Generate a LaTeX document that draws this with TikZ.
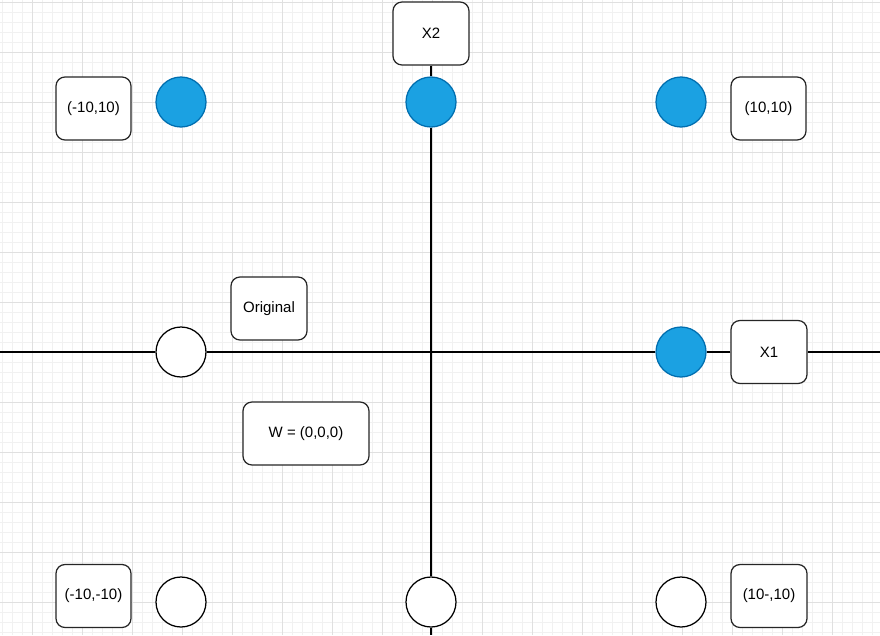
\documentclass[tikz,border=0pt]{standalone}
\usepackage{fontspec}
\setmainfont{Liberation Sans}
\definecolor{gridminor}{HTML}{F1F1F1}
\definecolor{gridmajor}{HTML}{E0E0E0}
\definecolor{dotfill}{HTML}{1BA1E2}
\definecolor{dotline}{HTML}{006EAF}
\begin{document}
\begin{tikzpicture}[x=1pt,y=-1pt,
  dotblue/.style={circle,draw=dotline,fill=dotfill,line width=1.25pt,minimum size=50pt,inner sep=0pt},
  dotwhite/.style={circle,draw=black,fill=white,line width=1.25pt,minimum size=50pt,inner sep=0pt},
  labelbox/.style={draw=black!85,fill=white,rounded corners=9pt,line width=1.25pt,minimum width=75pt,minimum height=63pt,inner sep=0pt,font=\fontsize{15}{18}\selectfont},
  axisline/.style={draw=black,line width=1.25pt}]
\useasboundingbox (0,0) rectangle (880,635);
\fill[white] (0,0) rectangle (880,635);
% grid
\foreach \i in {2,12,...,880} \draw[gridminor,line width=0.9pt] (\i,0) -- (\i,635);
\foreach \i in {2,12,...,635} \draw[gridminor,line width=0.9pt] (0,\i) -- (880,\i);
\foreach \i in {32,82,...,880} \draw[gridmajor,line width=0.9pt] (\i,0) -- (\i,635);
\foreach \i in {2,52,...,635} \draw[gridmajor,line width=0.9pt] (0,\i) -- (880,\i);
% nodes
\node[dotblue] (c1) at (181,102) {};
\node[dotblue] (c2) at (431,102) {};
\node[dotblue] (c3) at (681,102) {};
\node[dotwhite] (c4) at (181,352) {};
\node[dotblue] (c5) at (681,352) {};
\node[dotwhite] (c6) at (181,602) {};
\node[dotwhite] (c7) at (431,602) {};
\node[dotwhite] (c8) at (681,602) {};
\node[labelbox] (b1) at (93.5,108.5) {(-10,10)};
\node[labelbox,minimum width=76pt] (x2) at (431,33.5) {X2};
\node[labelbox] (b2) at (768.5,108.5) {(10,10)};
\node[labelbox,minimum width=76pt] (x1) at (769,352) {X1};
\node[labelbox,minimum width=76pt] (orig) at (269,308.5) {Original};
\node[labelbox,minimum width=126pt] (w) at (306,433.5) {W = (0,0,0)};
\node[labelbox] (b3) at (93.5,596) {(-10,-10)};
\node[labelbox,minimum width=76pt] (b4) at (769,596) {(10-,10)};
\coordinate (left) at (0,352);
\coordinate (right) at (880,352);
\coordinate (bottom) at (431,635);
% axes
\draw[axisline] (left) -- (c4.west);
\draw[axisline] (c4.east) -- (c5.west);
\draw[axisline] (c5.east) -- (x1.west);
\draw[axisline] (x1.east) -- (right);
\draw[axisline] (x2.south) -- (c2.north);
\draw[axisline] (c2.south) -- (c7.north);
\draw[axisline] (c7.south) -- (bottom);
\end{tikzpicture}
\end{document}
